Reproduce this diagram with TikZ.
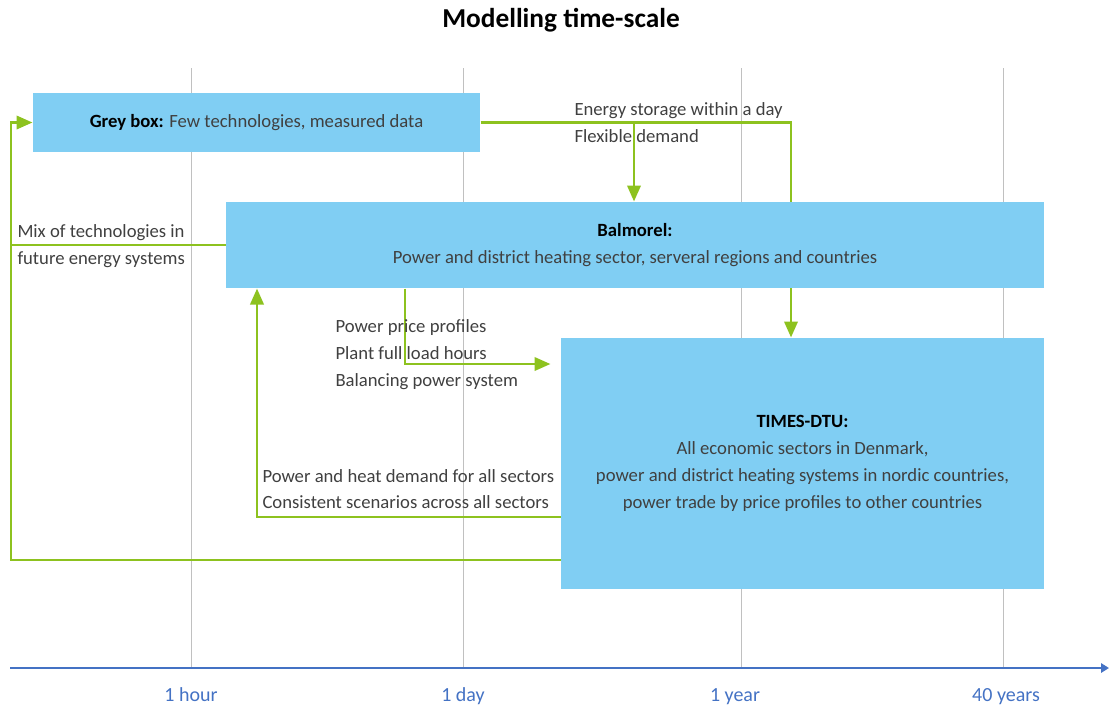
\documentclass[tikz,border=0pt]{standalone}
\usepackage{fontspec}
\setmainfont{Carlito}
\usetikzlibrary{arrows.meta,backgrounds}

\definecolor{boxblue}{RGB}{128,206,243}
\definecolor{flowgreen}{RGB}{141,194,31}
\definecolor{axisblue}{RGB}{68,114,196}
\definecolor{gridgrey}{RGB}{192,192,192}
\definecolor{txtgrey}{RGB}{64,64,64}

\tikzset{every picture/.style={line width=0.75pt}}
\tikzset{
  modelbox/.style={fill=boxblue, draw=none, inner sep=0pt, align=center, text=txtgrey, font=\fontsize{14}{20.25}\selectfont},
  flow/.style={draw=flowgreen, line width=2pt, -{Triangle[length=12pt,width=10pt]}},
  link/.style={draw=flowgreen, line width=2pt},
  lbl/.style={anchor=base west, inner sep=0pt, text=txtgrey, font=\fontsize{14}{16}\selectfont},
  ticklbl/.style={anchor=base, inner sep=0pt, text=axisblue, font=\fontsize{15}{17}\selectfont},
  gridline/.style={draw=gridgrey, line width=0.75pt},
  axisline/.style={draw=axisblue, line width=2pt, -{Triangle[length=6pt,width=7pt]}},
}

\begin{document}
\begin{tikzpicture}[x=0.75pt,y=0.75pt,yscale=-1,xscale=1]
\useasboundingbox (0,0) rectangle (1109,708);

% Title
\node [font=\bfseries\fontsize{20.5}{22}\selectfont] (title) at (561,20) {Modelling time-scale};

% Models
\node [modelbox, minimum width=335.25pt, minimum height=44.25pt] (grey) at (256.5,122.5) {\textbf{\color{black}Grey box:} Few technologies, measured data};
\node [modelbox, minimum width=613.5pt, minimum height=64.5pt] (balm) at (635,245) {\textbf{\color{black}Balmorel:}\\Power and district heating sector, serveral regions and countries};
\node [modelbox, minimum width=362.25pt, minimum height=188.25pt] (times) at (802.5,463.5) {\textbf{\color{black}TIMES-DTU:}\\All economic sectors in Denmark,\\power and district heating systems in nordic countries,\\power trade by price profiles to other countries};

% Time axis
\coordinate (ax0) at (10,668);
\coordinate (ax1) at (1109,668);
\coordinate (hour) at (191,668);
\coordinate (day) at (463,668);
\coordinate (year) at (741,668);
\coordinate (decades) at (1003,668);

\begin{scope}[on background layer]
  \foreach \t in {hour,day,year,decades}
    \draw [gridline] (\t) -- (\t |- 0,68);
  % Grey box -> TIMES-DTU, behind Balmorel
  \draw [flow] (grey.east) -| (791,0 |- times.north);
\end{scope}

\draw [axisline] (ax0) -- (ax1);
\node [ticklbl] (lhour) at (191,701) {1 hour};
\node [ticklbl] (lday) at (463,701) {1 day};
\node [ticklbl] (lyear) at (735,701) {1 year};
\node [ticklbl] (ldecades) at (1006,701) {40 years};

% Grey box -> Balmorel
\draw [flow] (634,0 |- grey.east) -- (634,0 |- balm.north);
\node [lbl] (stor1) at (574,115) {Energy storage within a day};
\node [lbl] (stor2) at (574,142) {Flexible demand};

% TIMES-DTU and Balmorel -> Grey box
\draw [flow] (times.west |- 0,560) -| (11,0 |- grey.west) -- (grey.west);
\draw [link] (balm.west) -- (11,0 |- balm.west);
\node [lbl] (mix1) at (17,237) {Mix of technologies in};
\node [lbl] (mix2) at (17,264) {future energy systems};

% Balmorel -> TIMES-DTU
\draw [flow, shorten >=7.5pt] (405,0 |- balm.south) |- (times.west |- 0,364);
\node [lbl] (bt1) at (335,332) {Power price profiles};
\node [lbl] (bt2) at (335,359) {Plant full load hours};
\node [lbl] (bt3) at (335,386) {Balancing power system};

% TIMES-DTU -> Balmorel
\draw [flow] (times.west |- 0,517) -| (257,0 |- balm.south);
\node [lbl] (tb1) at (262,482) {Power and heat demand for all sectors};
\node [lbl] (tb2) at (262,508) {Consistent scenarios across all sectors};

\end{tikzpicture}
\end{document}
